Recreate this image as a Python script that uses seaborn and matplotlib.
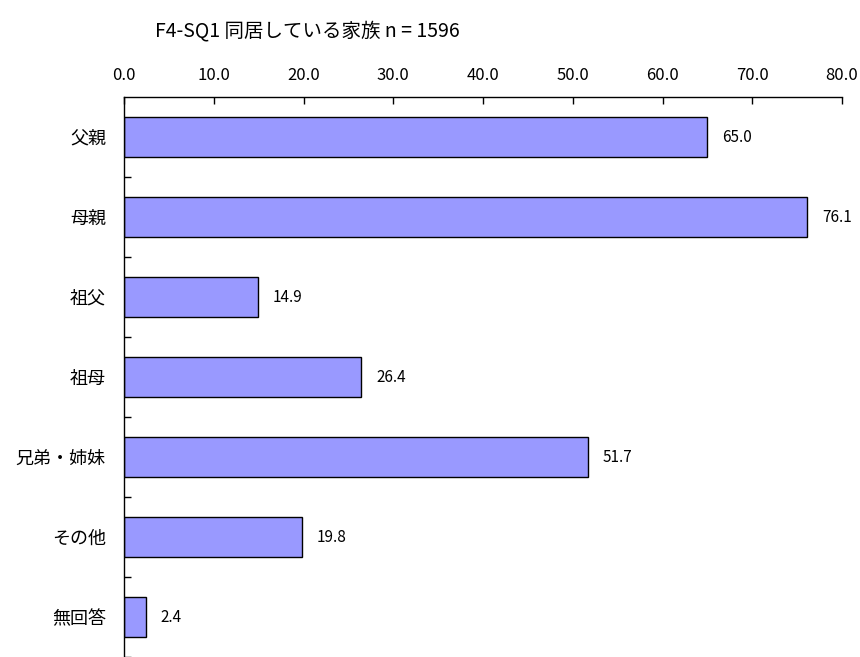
import matplotlib as mpl, numpy as np, pandas as pd
import matplotlib.pyplot as plt
from matplotlib.ticker import FormatStrFormatter, FixedLocator
import seaborn as sns

sns.set_style('white')
plt.rcParams['font.family'] = ['Liberation Sans Narrow', 'Noto Sans CJK JP', 'DejaVu Sans']
plt.rcParams.update({'text.color': 'black', 'xtick.color': 'black',
                     'ytick.color': 'black', 'axes.labelcolor': 'black'})

# Data
categories = ['父親', '母親', '祖父', '祖母', '兄弟・姉妹', 'その他', '無回答']
values = [65.0, 76.1, 14.9, 26.4, 51.7, 19.8, 2.4]
title = 'F4-SQ1 同居している家族 n = 1596'

data = pd.DataFrame({'cat': categories, 'val': values})

fig = plt.figure(figsize=(8.6, 6.57), dpi=100)
ax = fig.add_axes([124 / 860, 0.0, 718 / 860, 560 / 657])

sns.barplot(data=data, y='cat', x='val', orient='h', color='#9999FF',
            edgecolor='black', linewidth=1.0, width=0.51, saturation=1, ax=ax)

# value labels right of each bar
for p, v in zip(ax.patches, values):
    ax.annotate('%.1f' % v, (p.get_width(), p.get_y() + p.get_height() / 2),
                xytext=(15, 0), textcoords='offset pixels',
                va='center', ha='left', fontsize=11)

# Axes styling
ax.set_xlim(0, 80)
ax.set_ylim(len(categories) - 0.5, -0.5)
ax.xaxis.tick_top()
ax.set_xticks(np.arange(0, 81, 10))
ax.xaxis.set_major_formatter(FormatStrFormatter('%.1f'))
ax.tick_params(axis='x', direction='in', length=5, width=1, pad=9,
               labelsize=12, color='black', top=True, bottom=False)
ax.tick_params(axis='y', which='major', length=0, pad=13, labelsize=13)
for lbl in ax.get_yticklabels():
    lbl.set_family(['Noto Sans CJK JP', 'DejaVu Sans'])
ax.yaxis.set_minor_locator(FixedLocator(np.arange(0.5, len(categories), 1)))
ax.tick_params(axis='y', which='minor', direction='in', length=5, width=1,
               color='black', left=True)
ax.set_xlabel('')
ax.set_ylabel('')
for s in ['right', 'bottom']:
    ax.spines[s].set_visible(False)
for s in ['top', 'left']:
    ax.spines[s].set_color('black')
    ax.spines[s].set_linewidth(1)

fig.text(307 / 860, 1 - 31 / 657, title, ha='center', va='center', fontsize=14)

plt.savefig('out.png', dpi=100)
